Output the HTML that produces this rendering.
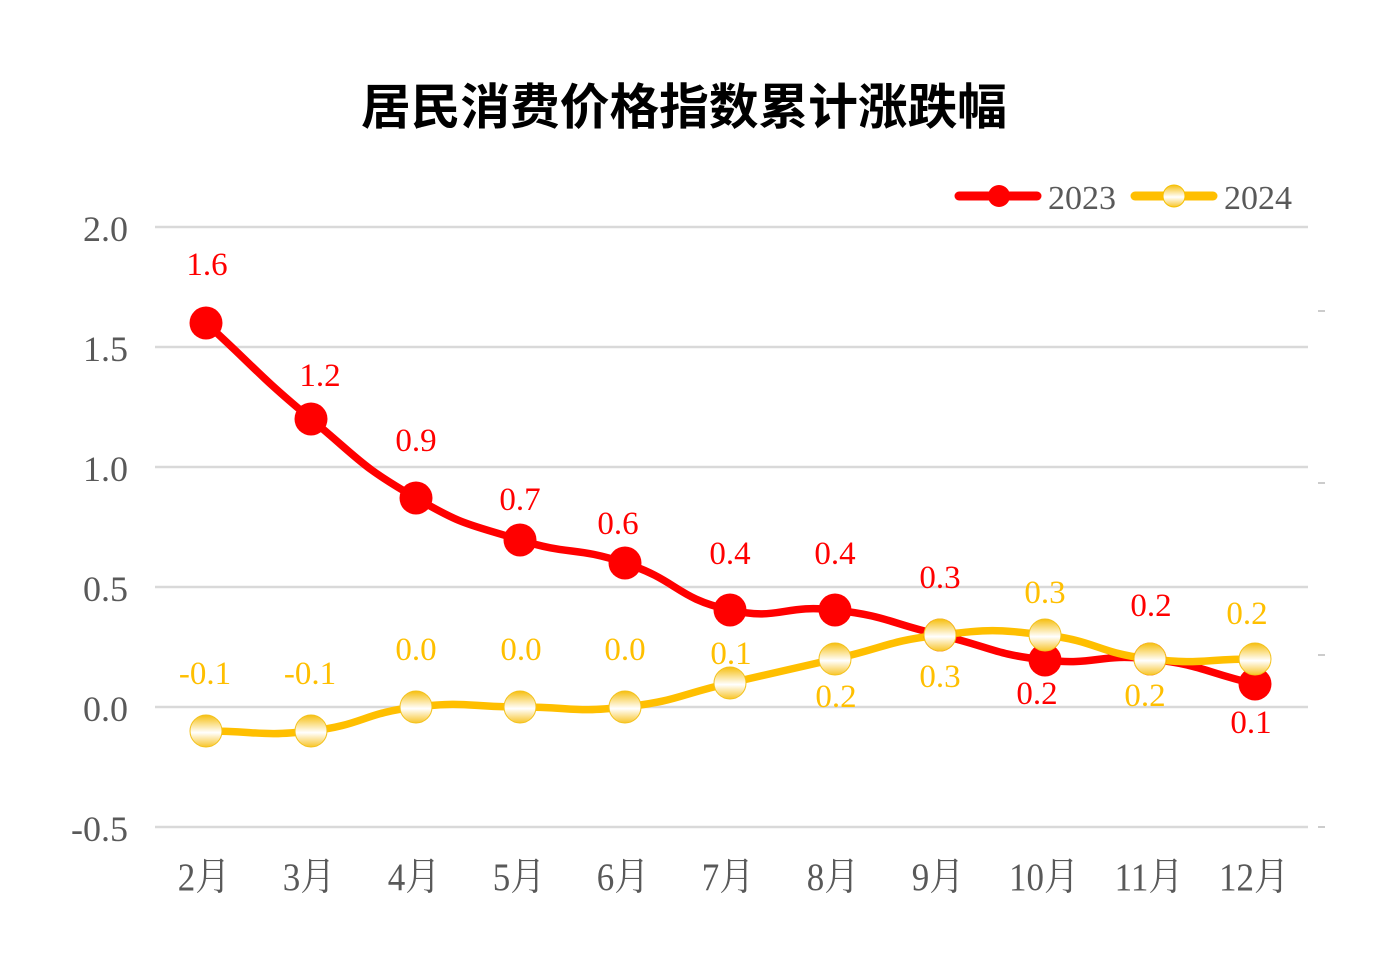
<!DOCTYPE html>
<html><head><meta charset="utf-8"><style>
html,body{margin:0;padding:0;background:#fff;}
svg{display:block;}
.ax{font-family:"Liberation Serif","Noto Serif CJK SC",serif;fill:#595959;}
.lb{font-family:"Liberation Serif","Noto Serif CJK SC",serif;font-size:33px;text-anchor:middle;}
.r{fill:#ff0000;}
.y{fill:#ffbf00;}
</style></head><body>
<svg id="c" width="1381" height="965" viewBox="0 0 1381 965" xmlns="http://www.w3.org/2000/svg">
<defs>
<linearGradient id="yg" x1="0" y1="0" x2="0" y2="1">
<stop offset="0" stop-color="#f6bf10"/>
<stop offset="0.55" stop-color="#ffffff"/>
<stop offset="1" stop-color="#f8c52a"/>
</linearGradient>
</defs>
<text x="684" y="124" text-anchor="middle" textLength="646" lengthAdjust="spacingAndGlyphs" style="font-family:'Noto Sans CJK SC','WenQuanYi Zen Hei',sans-serif;font-weight:bold;font-size:49px;fill:#000;">居民消费价格指数累计涨跌幅</text>

<g stroke="#d9d9d9" stroke-width="2.5">
<line x1="155" y1="227" x2="1308" y2="227"/>
<line x1="155" y1="347" x2="1308" y2="347"/>
<line x1="155" y1="467" x2="1308" y2="467"/>
<line x1="155" y1="587" x2="1308" y2="587"/>
<line x1="155" y1="707" x2="1308" y2="707"/>
<line x1="155" y1="827" x2="1308" y2="827"/>
</g>
<g stroke="#cccccc" stroke-width="2">
<line x1="1318" y1="311" x2="1325" y2="311"/>
<line x1="1318" y1="483" x2="1325" y2="483"/>
<line x1="1318" y1="655" x2="1325" y2="655"/>
<line x1="1318" y1="827" x2="1325" y2="827"/>
</g>

<g class="ax" font-size="36" text-anchor="end">
<text x="128" y="241">2.0</text>
<text x="128" y="361">1.5</text>
<text x="128" y="481">1.0</text>
<text x="128" y="601">0.5</text>
<text x="128" y="721">0.0</text>
<text x="128" y="841">-0.5</text>
</g>

<g class="ax" font-size="35" text-anchor="middle">
<text transform="translate(204,890) scale(1,1.12)">2月</text>
<text transform="translate(309,890) scale(1,1.12)">3月</text>
<text transform="translate(414,890) scale(1,1.12)">4月</text>
<text transform="translate(519,890) scale(1,1.12)">5月</text>
<text transform="translate(623,890) scale(1,1.12)">6月</text>
<text transform="translate(728,890) scale(1,1.12)">7月</text>
<text transform="translate(833,890) scale(1,1.12)">8月</text>
<text transform="translate(938,890) scale(1,1.12)">9月</text>
<text transform="translate(1044,890) scale(1,1.12)">10月</text>
<text transform="translate(1149,890) scale(1,1.12)">11月</text>
<text transform="translate(1254,890) scale(1,1.12)">12月</text>
</g>

<!-- legend -->
<line x1="959" y1="196" x2="1037" y2="196" stroke="#ff0000" stroke-width="9" stroke-linecap="round"/>
<circle cx="999" cy="196" r="11" fill="#ff0000"/>
<text class="ax" x="1048" y="209" font-size="34">2023</text>
<line x1="1135" y1="196" x2="1213" y2="196" stroke="#ffbf00" stroke-width="9" stroke-linecap="round"/>
<circle cx="1174" cy="196" r="11" fill="url(#yg)" stroke="#f5c000" stroke-width="1"/>
<text class="ax" x="1224" y="209" font-size="34">2024</text>

<path id="redLine" fill="none" stroke="#ff0000" stroke-width="7.5" stroke-linejoin="round" stroke-linecap="round" d=""/>
<path id="yelLine" fill="none" stroke="#ffbf00" stroke-width="7.5" stroke-linejoin="round" stroke-linecap="round" d=""/>

<g fill="#ff0000">
<circle cx="206" cy="323" r="16.5"/>
<circle cx="311" cy="419" r="16.5"/>
<circle cx="416" cy="498" r="16.5"/>
<circle cx="520" cy="540" r="16.5"/>
<circle cx="625" cy="563" r="16.5"/>
<circle cx="730" cy="610" r="16.5"/>
<circle cx="835" cy="610" r="16.5"/>
<circle cx="940" cy="635" r="16.5"/>
<circle cx="1045" cy="660" r="16.5"/>
<circle cx="1150" cy="659" r="16.5"/>
<circle cx="1255" cy="684" r="16.5"/>
</g>
<g fill="url(#yg)" stroke="#f3c11a" stroke-width="1">
<circle cx="206" cy="731" r="16"/>
<circle cx="311" cy="731" r="16"/>
<circle cx="416" cy="707" r="16"/>
<circle cx="520" cy="707" r="16"/>
<circle cx="625" cy="707" r="16"/>
<circle cx="730" cy="683" r="16"/>
<circle cx="835" cy="659" r="16"/>
<circle cx="940" cy="635" r="16"/>
<circle cx="1045" cy="635" r="16"/>
<circle cx="1150" cy="659" r="16"/>
<circle cx="1255" cy="659" r="16"/>
</g>

<g class="lb r">
<text x="207" y="275">1.6</text>
<text x="320" y="386">1.2</text>
<text x="416" y="451">0.9</text>
<text x="520" y="510">0.7</text>
<text x="618" y="534">0.6</text>
<text x="730" y="564">0.4</text>
<text x="835" y="564">0.4</text>
<text x="940" y="588">0.3</text>
<text x="1037" y="704">0.2</text>
<text x="1151" y="616">0.2</text>
<text x="1251" y="733">0.1</text>
</g>
<g class="lb y">
<text x="205" y="684">-0.1</text>
<text x="310" y="684">-0.1</text>
<text x="416" y="660">0.0</text>
<text x="521" y="660">0.0</text>
<text x="625" y="660">0.0</text>
<text x="731" y="664">0.1</text>
<text x="836" y="707">0.2</text>
<text x="940" y="687">0.3</text>
<text x="1045" y="603">0.3</text>
<text x="1145" y="706">0.2</text>
<text x="1247" y="624">0.2</text>
</g>
</svg>
<script>
function smoothPath(p,s){
  var d="M"+p[0][0]+","+p[0][1];
  var cps=[];
  for(var i=0;i<p.length;i++){
    var prev=p[i>0?i-1:i],next=p[i<p.length-1?i+1:i],cur=p[i];
    var vx=next[0]-prev[0],vy=next[1]-prev[1];
    var d0=Math.hypot(cur[0]-prev[0],cur[1]-prev[1]),d1=Math.hypot(next[0]-cur[0],next[1]-cur[1]);
    var r=(d0+d1)?d1/(d0+d1):0.5;
    cps.push({b:[cur[0]-vx*s*(1-r),cur[1]-vy*s*(1-r)],a:[cur[0]+vx*s*r,cur[1]+vy*s*r]});
  }
  for(var i=0;i<p.length-1;i++){
    var c1=cps[i].a,c2=cps[i+1].b;
    d+=" C"+c1[0].toFixed(1)+","+c1[1].toFixed(1)+" "+c2[0].toFixed(1)+","+c2[1].toFixed(1)+" "+p[i+1][0]+","+p[i+1][1];
  }
  return d;
}
var red=[[206,323],[311,419],[416,498],[520,540],[625,563],[730,610],[835,610],[940,635],[1045,660],[1150,659],[1255,684]];
var yel=[[206,731],[311,731],[416,707],[520,707],[625,707],[730,683],[835,659],[940,635],[1045,635],[1150,659],[1255,659]];
document.getElementById("redLine").setAttribute("d",smoothPath(red,0.5));
document.getElementById("yelLine").setAttribute("d",smoothPath(yel,0.5));
</script>
</body></html>
